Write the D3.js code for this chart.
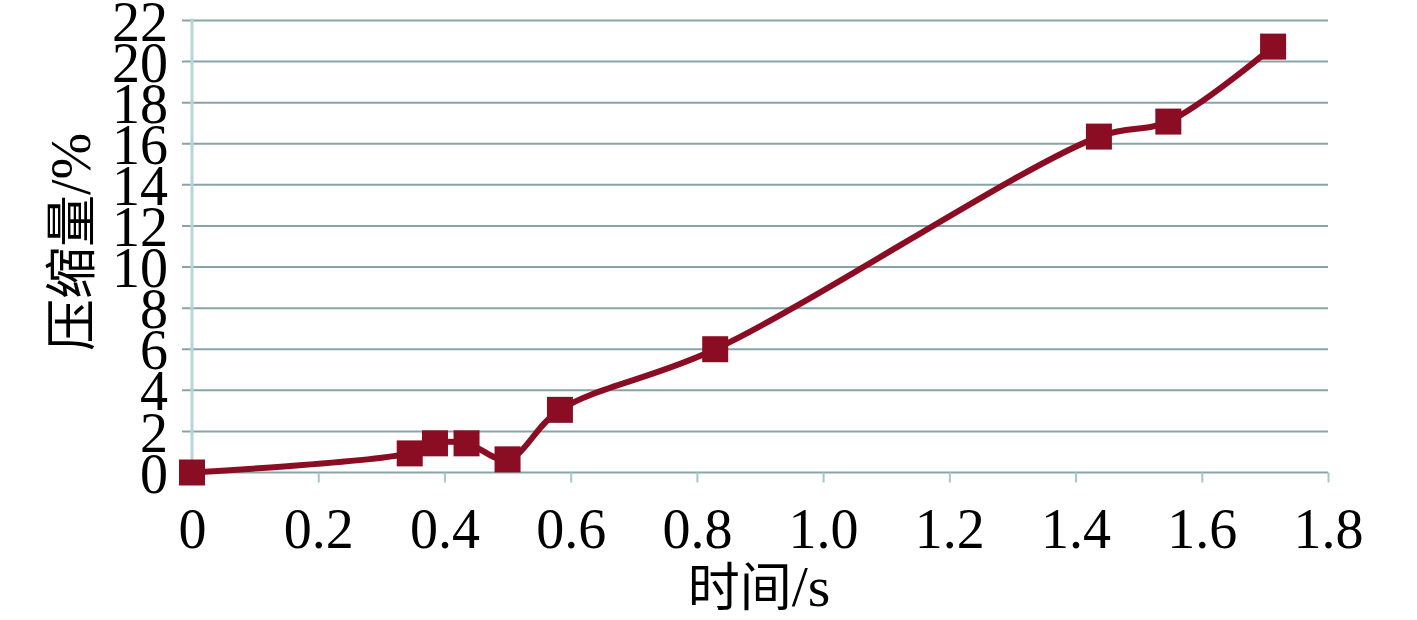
<!DOCTYPE html>
<html lang="zh">
	<head>
		<meta charset="utf-8">
		<title>压缩量-时间</title>
		<script src="https://d3js.org/d3.v7.min.js"></script>
		<style type="text/css">
			body { margin: 0; background: #fff; }
			text { font-family: "Liberation Serif", "Times New Roman", "Noto Sans CJK SC", serif; fill: #000; }
		</style>
	</head>
	<body>
		<script type="text/javascript">

			// data
			var timeS = [0, 0.345, 0.385, 0.435, 0.5, 0.583, 0.829, 1.437, 1.547, 1.713];
			var compression = [0, 0.93, 1.42, 1.42, 0.64, 3.05, 6.0, 16.35, 17.08, 20.73];
			var xTicks = [0, 0.2, 0.4, 0.6, 0.8, 1.0, 1.2, 1.4, 1.6, 1.8];
			var yTicks = [0, 2, 4, 6, 8, 10, 12, 14, 16, 18, 20, 22];
			var xTitle = ["时间", "/s"];
			var yTitle = ["压缩量", "/%"];

			var w = 1417;
			var h = 620;
			var lineColor = "#8b0d23";
			var serif = "'Liberation Serif', 'Times New Roman', serif";
			var cjk = "'Noto Sans CJK SC', sans-serif";

			var svg = d3.select("body")
						.append("svg")
						.attr("width", w)
						.attr("height", h);

			var x = d3.scaleLinear().domain([0, 1.8]).range([192, 1328]);
			var y = d3.scaleLinear().domain([0, 22]).range([472.5, 20.5]);

			//horizontal grid lines (run a bit left of the axis like tick marks)
			svg.append("g")
			   .selectAll("line")
			   .data(yTicks)
			   .enter()
			   .append("line")
			   .attr("x1", 182)
			   .attr("x2", x(1.8))
			   .attr("y1", function(d) { return y(d); })
			   .attr("y2", function(d) { return y(d); })
			   .attr("stroke", "#87a5a7")
			   .attr("stroke-width", 2);

			//vertical axis line
			svg.append("line")
			   .attr("x1", x(0)).attr("x2", x(0))
			   .attr("y1", y(22) - 2).attr("y2", y(0))
			   .attr("stroke", "#b7d4d9")
			   .attr("stroke-width", 3);

			//x axis
			var xAxis = d3.axisBottom(x)
						  .tickValues(xTicks)
						  .tickSize(10)
						  .tickPadding(26)
						  .tickFormat(function(d) { return d === 0 ? "0" : d3.format(".1f")(d); });
			var gx = svg.append("g")
						.attr("transform", "translate(0," + y(0) + ")")
						.call(xAxis);
			gx.select(".domain").remove();
			gx.selectAll(".tick line").attr("stroke", "#a9c5cb").attr("stroke-width", 2);
			gx.selectAll(".tick text")
			  .style("font-family", serif)
			  .attr("font-size", 56)
			  .attr("dy", "0.71em");

			//y axis labels
			var yAxis = d3.axisLeft(y)
						  .tickValues(yTicks)
						  .tickSize(0)
						  .tickPadding(24)
						  .tickFormat(d3.format("d"));
			var gy = svg.append("g")
						.attr("transform", "translate(" + x(0) + ",0)")
						.call(yAxis);
			gy.select(".domain").remove();
			gy.selectAll(".tick text")
			  .style("font-family", serif)
			  .attr("font-size", 56)
			  .attr("dy", "0.35em");

			//the line
			var pts = timeS.map(function(t, i) { return [t, compression[i]]; });
			var line = d3.line()
						 .x(function(d) { return x(d[0]); })
						 .y(function(d) { return y(d[1]); })
						 .curve(d3.curveCatmullRom.alpha(0.5));

			svg.append("path")
			   .datum(pts)
			   .attr("d", line)
			   .attr("fill", "none")
			   .attr("stroke", lineColor)
			   .attr("stroke-width", 6);

			var ms = 26;
			svg.selectAll("rect.marker")
			   .data(pts)
			   .enter()
			   .append("rect")
			   .attr("class", "marker")
			   .attr("x", function(d) { return x(d[0]) - ms / 2; })
			   .attr("y", function(d) { return y(d[1]) - ms / 2; })
			   .attr("width", ms)
			   .attr("height", ms)
			   .attr("fill", lineColor);

			//axis titles: CJK part and latin part in their own fonts
			var xt = svg.append("text")
			   .attr("x", 759)
			   .attr("y", 606)
			   .attr("text-anchor", "middle")
			   .attr("font-size", 52);
			xt.append("tspan").style("font-family", cjk).text(xTitle[0]);
			xt.append("tspan").style("font-family", serif).attr("font-size", 58).text(xTitle[1]);

			var yt = svg.append("text")
			   .attr("transform", "translate(90,242) rotate(-90)")
			   .attr("text-anchor", "middle")
			   .attr("font-size", 52);
			yt.append("tspan").style("font-family", cjk).text(yTitle[0]);
			yt.append("tspan").style("font-family", serif).attr("font-size", 56).text(yTitle[1]);
		</script>
	</body>
</html>
